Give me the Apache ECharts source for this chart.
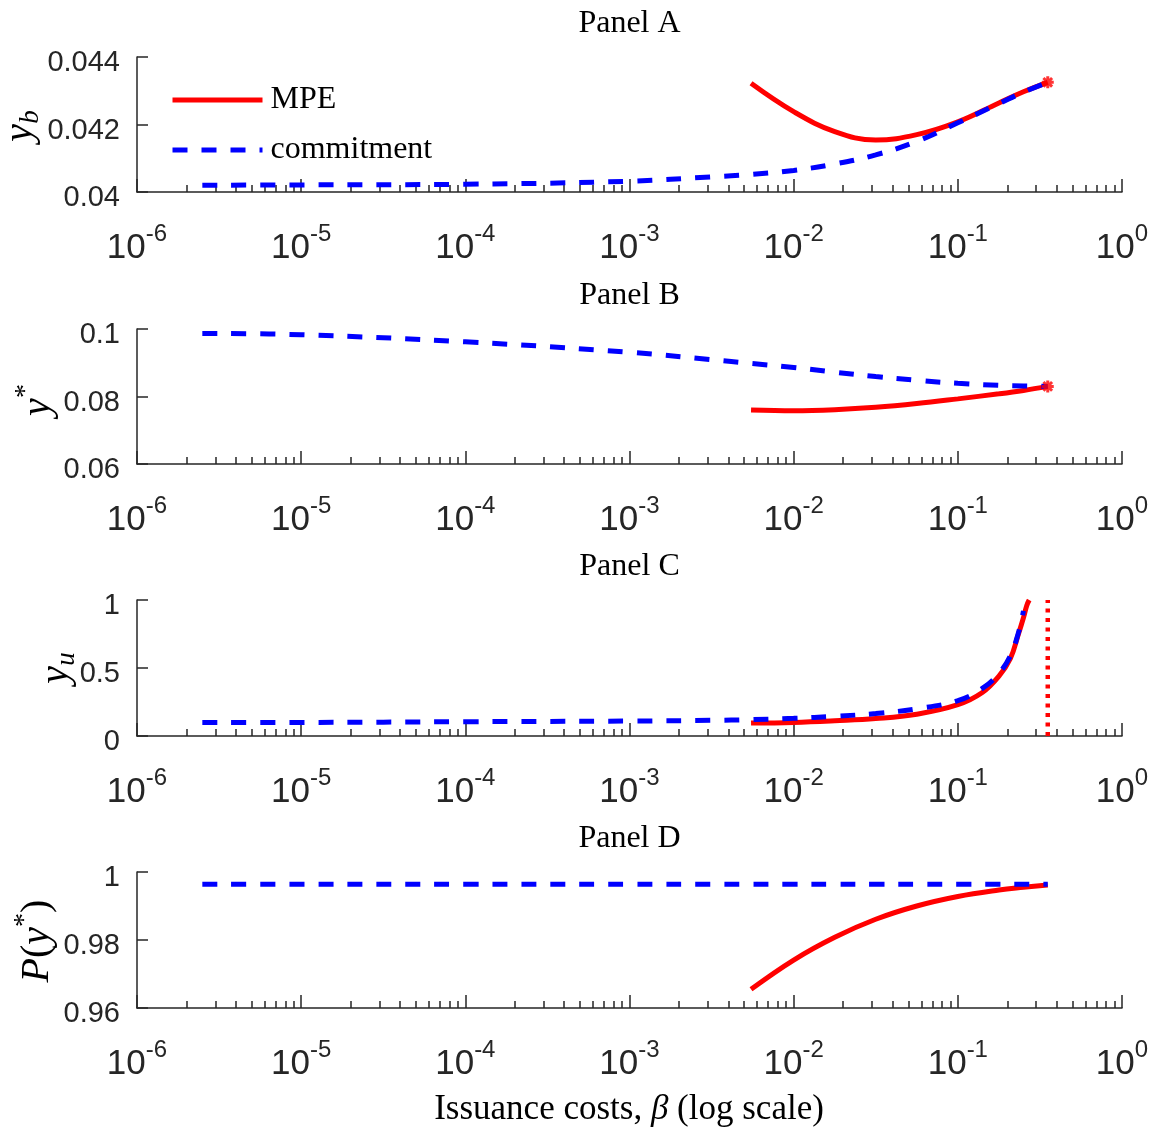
<!DOCTYPE html>
<html><head><meta charset="utf-8">
<script src="https://cdn.jsdelivr.net/npm/echarts@6/dist/echarts.min.js"></script>
<style>html,body{margin:0;padding:0;background:#fff}#c{width:1153px;height:1137px}</style>
</head><body><div id="c"></div>
<script>
// ---- data ----
const betaCommit = [2.5e-6, 1e-5, 1e-4, 1e-3, 0.00316, 0.0055, 0.01, 0.0178, 0.0316, 0.0562, 0.1, 0.178, 0.251, 0.353];
const betaMPE = [0.0055, 0.01, 0.0178, 0.0316, 0.0562, 0.1, 0.178, 0.251, 0.353];
const betaCommitC = [2.5e-6, 1e-5, 1e-4, 1e-3, 0.00316, 0.0055, 0.01, 0.0178, 0.0316, 0.0562, 0.1, 0.141, 0.178, 0.209, 0.234, 0.251];
const betaMPEC = [0.0055, 0.01, 0.0178, 0.0316, 0.0562, 0.1, 0.141, 0.178, 0.209, 0.234, 0.251, 0.263, 0.272];

const commitA = [0.0402, 0.04021, 0.04023, 0.04032, 0.04045, 0.04052, 0.04064, 0.04083, 0.0411, 0.0415, 0.04205, 0.04262, 0.04296, 0.04325];
const mpeA = [0.04322, 0.04238, 0.04179, 0.04154, 0.0417, 0.04208, 0.04264, 0.04297, 0.04325];

const commitB = [0.0987, 0.0983, 0.0962, 0.0931, 0.0909, 0.0898, 0.0886, 0.0872, 0.0859, 0.0848, 0.0839, 0.0833, 0.0831, 0.0830];
const mpeB = [0.0760, 0.0758, 0.0761, 0.0768, 0.0779, 0.0793, 0.0808, 0.0818, 0.0830];

const commitC = [0.10, 0.10, 0.105, 0.11, 0.115, 0.12, 0.13, 0.145, 0.165, 0.2, 0.26, 0.35, 0.46, 0.59, 0.76, 0.92];
const mpeC = [0.095, 0.10, 0.112, 0.128, 0.16, 0.23, 0.32, 0.44, 0.57, 0.75, 0.87, 0.96, 1.0];
const cutoffBeta = 0.353;
const cutoffRange = [0, 1];

const commitD = [0.9964, 0.9964, 0.9964, 0.9964, 0.9964, 0.9964, 0.9964, 0.9964, 0.9964, 0.9964, 0.9964, 0.9964, 0.9964, 0.9964];
const mpeD = [0.9655, 0.9741, 0.9808, 0.9861, 0.9900, 0.9928, 0.9947, 0.9955, 0.9962];

const panelTitles = ['Panel A', 'Panel B', 'Panel C', 'Panel D'];
const yMin = [0.04, 0.06, 0, 0.96];
const yMax = [0.044, 0.1, 1, 1];
const yStep = [0.002, 0.02, 0.5, 0.02];
const xMin = 1e-6, xMax = 1;
const minorTickBetas = [];
for (let e = -6; e < 0; e++) for (let k = 2; k <= 9; k++) minorTickBetas.push(k * Math.pow(10, e));

// ---- layout / style ----
const AX = '#262626';
const gridTop = [57, 329, 600, 872];
const gridH = [135, 135, 136, 136];
const zip = (xs, ys) => xs.map((x, i) => [x, ys[i]]);
const asterisk = 'path://M0,-5L0,5M-5,0L5,0M-3.6,-3.6L3.6,3.6M-3.6,3.6L3.6,-3.6';

const grids = [], xAxes = [], yAxes = [], series = [];
for (let i = 0; i < 4; i++) {
  grids.push({left: 137, right: 31, top: gridTop[i], height: gridH[i]});
  xAxes.push({
    type: 'log', logBase: 10, gridIndex: i, min: xMin, max: xMax, position: 'bottom',
    axisLine: {show: true, onZero: false, lineStyle: {color: AX, width: 1.5}},
    axisTick: {show: true, inside: true, length: 13, lineStyle: {color: AX, width: 1.5}},
    splitLine: {show: false}, minorTick: {show: false},
    axisLabel: {
      show: true, margin: 30, showMinLabel: true, showMaxLabel: true,
      formatter: v => '{b|10}{s|' + Math.round(Math.log10(v)) + '}',
      rich: {
        b: {fontFamily: 'Liberation Sans', fontSize: 35, color: AX, lineHeight: 44, verticalAlign: 'bottom'},
        s: {fontFamily: 'Liberation Sans', fontSize: 24, color: AX, lineHeight: 24, verticalAlign: 'top'}
      }
    }
  });
  xAxes.push({
    type: 'value', gridIndex: i, min: Math.log10(xMin), max: Math.log10(xMax), position: 'bottom',
    axisLine: {show: false, onZero: false}, axisLabel: {show: false}, splitLine: {show: false},
    axisTick: {show: true, inside: true, length: 7, lineStyle: {color: AX, width: 1.5},
      customValues: minorTickBetas.map(b => Math.log10(b))}
  });
  yAxes.push({
    type: 'value', gridIndex: i, min: yMin[i], max: yMax[i], interval: yStep[i], position: 'left',
    axisLine: {show: true, onZero: false, lineStyle: {color: AX, width: 1.5}},
    axisTick: {show: true, inside: true, length: 11, lineStyle: {color: AX, width: 1.5}},
    splitLine: {show: false},
    axisLabel: {
      margin: 17, fontFamily: 'Liberation Sans', fontSize: 29, color: AX,
      verticalAlign: 'top', lineHeight: 12,
      formatter: v => String(+(+v).toFixed(6))
    }
  });
}

const panels = [
  {cb: betaCommit, c: commitA, mb: betaMPE, m: mpeA, star: true},
  {cb: betaCommit, c: commitB, mb: betaMPE, m: mpeB, star: true},
  {cb: betaCommitC, c: commitC, mb: betaMPEC, m: mpeC, star: false},
  {cb: betaCommit, c: commitD, mb: betaMPE, m: mpeD, star: false}
];
panels.forEach((p, i) => {
  series.push({
    type: 'line', name: 'MPE', xAxisIndex: 2 * i, yAxisIndex: i, data: zip(p.mb, p.m),
    symbol: 'none', smooth: 0.4, lineStyle: {color: '#ff0000', width: 5}, itemStyle: {color: '#ff0000'}, z: 2
  });
  series.push({
    type: 'line', name: 'commitment', xAxisIndex: 2 * i, yAxisIndex: i, data: zip(p.cb, p.c),
    symbol: 'none', smooth: 0.4, lineStyle: {color: '#0000ff', width: 5, type: [15, 14]}, itemStyle: {color: '#0000ff'}, z: 3
  });
  if (p.star) {
    series.push({
      type: 'scatter', name: 'end', xAxisIndex: 2 * i, yAxisIndex: i,
      data: [[p.mb[p.mb.length - 1], p.m[p.m.length - 1]]],
      symbol: asterisk, symbolSize: 12,
      itemStyle: {color: 'rgba(0,0,0,0)', borderColor: '#ff0000', borderWidth: 3}, z: 4
    });
  }
});
series.push({
  type: 'line', name: 'cutoff', xAxisIndex: 4, yAxisIndex: 2,
  data: cutoffRange.map(v => [cutoffBeta, v]), symbol: 'none',
  lineStyle: {color: '#ff0000', width: 4.5, type: [4, 5.5]}, z: 2
});

// ---- text graphics ----
const serif = 'Liberation Serif';
const graphics = [];
panelTitles.forEach((t, i) => {
  graphics.push({type: 'text', x: 629.5, y: gridTop[i] - 33.5,
    style: {text: t, font: '32px "Liberation Serif"', fill: '#000', textAlign: 'center', textVerticalAlign: 'middle'}});
});
const it = (fs, lh, va) => ({fontFamily: serif, fontStyle: 'italic', fontSize: fs, lineHeight: lh, verticalAlign: va, fill: '#000'});
const rm = (fs, lh, va) => ({fontFamily: serif, fontSize: fs, lineHeight: lh, verticalAlign: va, fill: '#000'});
const yNames = [
  {x: 22, y: 126, text: '{i|y}{sub|b}', rich: {i: it(40, 44, 'top'), sub: it(27, 20, 'bottom')}},
  {x: 35, y: 400, text: '{i|y}{sup|*}', rich: {i: it(40, 46, 'bottom'), sup: rm(28, 22, 'top')}},
  {x: 58, y: 668, text: '{i|y}{sub|u}', rich: {i: it(40, 44, 'top'), sub: it(27, 20, 'bottom')}},
  {x: 34, y: 941, text: '{i|P}{r|(}{i|y}{sup|*}{r|)}', rich: {i: it(40, 46, 'bottom'), r: rm(40, 46, 'bottom'), sup: rm(28, 22, 'top')}}
];
yNames.forEach(n => graphics.push({type: 'text', x: n.x, y: n.y, rotation: Math.PI / 2,
  style: {text: n.text, rich: n.rich, textAlign: 'center', textVerticalAlign: 'middle', fill: '#000'}}));
graphics.push({type: 'text', x: 629, y: 1110,
  style: {text: '{t|Issuance costs, }{g|β}{t| (log scale)}', textAlign: 'center', textVerticalAlign: 'middle',
    rich: {t: rm(35, 40, 'middle'), g: it(35, 40, 'middle')}}});

const chart = echarts.init(document.getElementById('c'), null, {renderer: 'canvas'});
chart.setOption({
  animation: false,
  backgroundColor: '#ffffff',
  grid: grids, xAxis: xAxes, yAxis: yAxes, series: series,
  legend: {
    data: ['MPE', 'commitment'], orient: 'vertical', left: 165, top: 79,
    itemWidth: 90, itemHeight: 20, itemGap: 18, selectedMode: false,
    lineStyle: {width: 5}, itemStyle: {opacity: 0},
    textStyle: {fontFamily: serif, fontSize: 32, color: '#000', lineHeight: 32, padding: [0, 0, 0, 3]}
  },
  graphic: graphics
});
</script></body></html>
